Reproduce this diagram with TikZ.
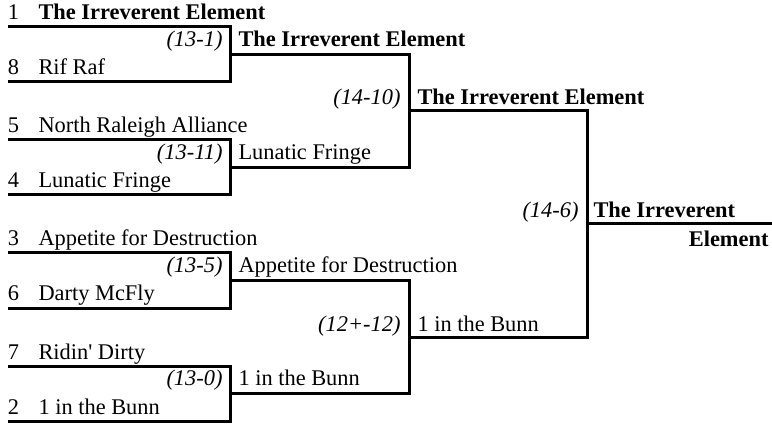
\documentclass[tikz,border=0pt]{standalone}
\usepackage{fontspec}
\setmainfont{Liberation Serif}
\tikzset{
  team/.style={anchor=base west,inner sep=0pt},
  seed/.style={anchor=base east,inner sep=0pt},
  score/.style={anchor=base east,inner sep=0pt,font=\fontsize{22.4}{27}\selectfont\itshape},
}
\begin{document}
\begin{tikzpicture}[x=1pt,y=-1pt,line width=3pt,font=\fontsize{22.4}{27}\selectfont]
 \useasboundingbox (0,0) rectangle (772,425);
 \draw (8,27)--(230,27)--(230,82)--(8,82);
 \draw (8,140)--(230,140)--(230,195)--(8,195);
 \draw (8,253)--(230,253)--(230,308)--(8,308);
 \draw (8,366)--(230,366)--(230,421)--(8,421);
 \draw (230,54.5)--(409,54.5)--(409,167.5)--(230,167.5);
 \draw (230,280.5)--(409,280.5)--(409,393.5)--(230,393.5);
 \draw (409,111)--(587,111)--(587,337)--(409,337);
 \draw (587,224)--(772,224);
 \node[seed] (s1) at (20.5,20) {1};
 \node[team] (t1) at (37,20) {\bfseries The Irreverent Element};
 \node[seed] (s8) at (20.5,75) {8};
 \node[team] (t8) at (37,75) {Rif Raf};
 \node[seed] (s5) at (20.5,133) {5};
 \node[team] (t5) at (37,133) {North Raleigh Alliance};
 \node[seed] (s4) at (20.5,188) {4};
 \node[team] (t4) at (37,188) {Lunatic Fringe};
 \node[seed] (s3) at (20.5,246) {3};
 \node[team] (t3) at (37,246) {Appetite for Destruction};
 \node[seed] (s6) at (20.5,301) {6};
 \node[team] (t6) at (37,301) {Darty McFly};
 \node[seed] (s7) at (20.5,359) {7};
 \node[team] (t7) at (37,359) {Ridin\textquotesingle{} Dirty};
 \node[seed] (s2) at (20.5,414) {2};
 \node[team] (t2) at (37,414) {1 in the Bunn};
 \node[score] (r2a) at (224,46.5) {(13-1)};
 \node[team] (w2a) at (237,46.5) {\bfseries The Irreverent Element};
 \node[score] (r2b) at (224,159.5) {(13-11)};
 \node[team] (w2b) at (237,159.5) {Lunatic Fringe};
 \node[score] (r2c) at (224,272.5) {(13-5)};
 \node[team] (w2c) at (237,272.5) {Appetite for Destruction};
 \node[score] (r2d) at (224,385.5) {(13-0)};
 \node[team] (w2d) at (237,385.5) {1 in the Bunn};
 \node[score] (r3a) at (402,105) {(14-10)};
 \node[team] (w3a) at (416,105) {\bfseries The Irreverent Element};
 \node[score] (r3b) at (402,331) {(12+-12)};
 \node[team] (w3b) at (416,331) {1 in the Bunn};
 \node[score] (r4) at (580,218) {(14-6)};
 \node[team] (w4) at (592,218) {\bfseries The Irreverent};
 \node[seed] (w4b) at (770,247) {\bfseries Element};
\end{tikzpicture}
\end{document}
